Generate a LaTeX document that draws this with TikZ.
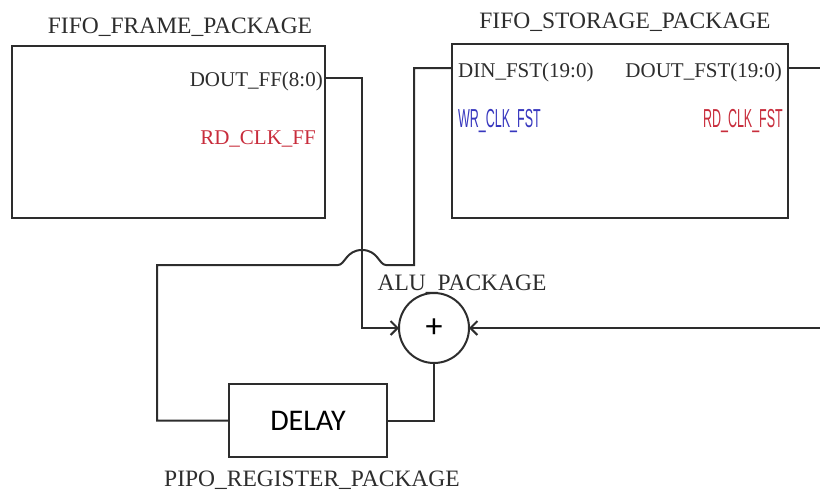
\documentclass[tikz,border=0pt]{standalone}
\usepackage{fontspec}
\setmainfont{Liberation Serif}
\newfontfamily\calfont{Carlito}
\newfontfamily\condfont{Liberation Sans}
\usetikzlibrary{arrows.meta}
\definecolor{wire}{RGB}{45,45,45}
\definecolor{clkred}{RGB}{200,45,60}
\definecolor{clkblue}{RGB}{55,55,190}
\begin{document}
\begin{tikzpicture}[x=1pt,y=-1pt,
  pkgbox/.style={draw=wire, line width=2.2pt, inner sep=0pt, outer sep=0pt},
  title/.style={font=\fontsize{23.5}{26}\selectfont, text=wire, anchor=base, inner sep=0pt},
  port/.style={font=\fontsize{21}{24}\selectfont, text=wire, inner sep=0pt},
  clk/.style={inner sep=0pt},
  wireline/.style={draw=wire, line width=2pt},
  arr/.style={-{Straight Barb[length=7pt,width=14pt,line width=2pt]}},
  ]
\useasboundingbox (0,0) rectangle (820,493);

% boxes
\node[pkgbox, minimum width=313pt, minimum height=172pt] (ff) at (168.5,132) {};
\node[pkgbox, minimum width=336pt, minimum height=174pt] (fst) at (620,131) {};
\node[pkgbox, line width=2pt, minimum width=158pt, minimum height=73pt] (delay) at (308,420.5)
  {\calfont\fontsize{30}{32}\selectfont DELAY};
\node[draw=wire, line width=2pt, circle, minimum size=70pt, inner sep=0pt, outer sep=0pt] (alu) at (434,328)
  {\calfont\fontsize{34}{36}\selectfont +};

% titles
\node[title] (tff) at (180,33) {FIFO\_FRAME\_PACKAGE};
\node[title] (tfst) at (625,28) {FIFO\_STORAGE\_PACKAGE};
\node[title] (talu) at (462,290) {ALU\_PACKAGE};
\node[title] (tpipo) at (312,486) {PIPO\_REGISTER\_PACKAGE};

% port labels
\node[port, anchor=base east] (doutff) at (323,86) {DOUT\_FF(8:0)};
\node[port, anchor=base east, text=clkred] (rdclkff) at (316,144) {RD\_CLK\_FF};
\node[port, anchor=base west] (dinfst) at (458,77) {DIN\_FST(19:0)};
\node[port, anchor=base east] (doutfst) at (782,77) {DOUT\_FST(19:0)};
\node[clk, anchor=base west, text=clkblue] (wrclk) at (458,127)
  {\scalebox{0.48}[1]{\condfont\fontsize{26}{28}\selectfont WR\_CLK\_FST}};
\node[clk, anchor=base east, text=clkred] (rdclkfst) at (783,127)
  {\scalebox{0.48}[1]{\condfont\fontsize{26}{28}\selectfont RD\_CLK\_FST}};

% port points
\coordinate (ffout) at (325,78);
\coordinate (fstin) at (452,68);
\coordinate (fstout) at (788,68);
\coordinate (edgeout) at (820,68);
\coordinate (edgein) at (820,328);

% wires
\draw[wireline, arr] (ffout) -- (362,78) -- (362,328) -- (alu.west);
\draw[wireline] (fstout) -- (edgeout);
\draw[wireline, arr] (edgein) -- (alu.east);
\draw[wireline] (alu.south) |- (delay.east);
\draw[wireline] (fstin) -- (414,68) -- (414,265) -- (386,265)
  .. controls (379,265) and (378,250) .. (362,250)
  .. controls (346,250) and (345,265) .. (338,265)
  -- (157,265) |- (delay.west);
\end{tikzpicture}
\end{document}
